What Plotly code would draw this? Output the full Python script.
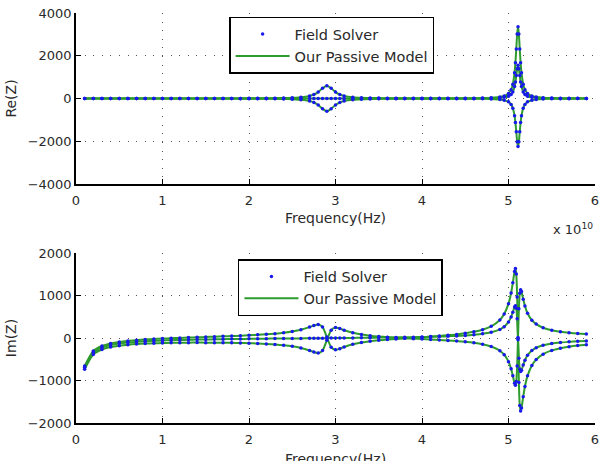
import plotly.graph_objects as go
from plotly.subplots import make_subplots

# Frequency in units of 1e10 Hz
freq = [0.1, 0.2, 0.3, 0.4, 0.5, 0.6, 0.7, 0.8, 0.9, 1.0,
        1.1, 1.2, 1.3, 1.4, 1.5, 1.6, 1.7, 1.8, 1.9, 2.0,
        2.1, 2.2, 2.3, 2.4, 2.5, 2.6, 2.7,
        2.75, 2.8, 2.85, 2.9, 2.95, 3.0, 3.05, 3.1,
        3.2, 3.3, 3.4, 3.5, 3.6, 3.7, 3.8, 3.9, 4.0, 4.1, 4.2, 4.3, 4.4, 4.5, 4.6, 4.7, 4.8, 4.9,
        4.95, 5.0, 5.03, 5.05, 5.07, 5.08, 5.09, 5.10, 5.11, 5.12, 5.13, 5.14, 5.15, 5.17, 5.19, 5.22, 5.27, 5.32,
        5.4, 5.5, 5.6, 5.7, 5.8, 5.9]

re_z11 = [1, 1, 1, 1, 1, 1, 1, 1, 2, 2,
          2, 2, 2, 3, 3, 4, 4, 5, 6, 7,
          9, 12, 16, 23, 36, 61, 121,
          186, 301, 481, 601, 481, 301, 186, 121,
          61, 36, 25, 18, 14, 11, 9, 8, 7, 7, 7, 8, 9, 10, 14, 20, 33, 68,
          115, 232, 413, 671, 1207, 1676, 2319, 3016, 3351, 3016, 2319, 1676, 1207, 671, 413, 232, 115, 68,
          37, 21, 14, 10, 7, 6]
re_z12 = [-1, -1, -1, -1, -1, -1, -1, -1, -2, -2,
          -2, -2, -2, -3, -3, -4, -4, -5, -6, -7,
          -9, -12, -16, -23, -36, -61, -121,
          -186, -301, -481, -601, -481, -301, -186, -121,
          -61, -36, -24, -17, -13, -10, -8, -7, -6, -6, -6, -6, -6, -7, -10, -14, -23, -46,
          -78, -157, -278, -451, -811, -1126, -1558, -2026, -2251, -2026, -1558, -1126, -811, -451, -278, -157, -78, -46,
          -25, -14, -9, -7, -5, -4]
re_z22 = [0, 0, 0, 0, 0, 0, 0, 0, 0, 0,
          0, 0, 0, 0, 0, 0, 0, 0, 0, 0,
          0, 0, 0, 0, 0, 0, 0,
          0, 0, 0, 0, 0, 0, 0, 0,
          0, 0, 1, 1, 1, 1, 1, 1, 1, 1, 2, 2, 3, 4, 5, 8, 14, 31,
          53, 107, 191, 310, 558, 775, 1073, 1395, 1550, 1395, 1073, 775, 558, 310, 191, 107, 53, 31,
          16, 9, 6, 4, 3, 2]

im_z11 = [-659, -307, -189, -130, -93, -69, -50, -36, -24, -14,
          -6, 3, 9, 17, 24, 31, 39, 45, 53, 63,
          74, 87, 103, 123, 152, 193, 256,
          294, 319, 260, 22, -217, -276, -251, -213,
          -149, -107, -77, -55, -37, -22, -8, 6, 19, 33, 48, 65, 85, 112, 146, 196, 275, 425,
          564, 808, 1060, 1298, 1566, 1633, 1504, 964, -41, -1046, -1587, -1716, -1649, -1381, -1141, -890, -646, -508,
          -380, -292, -239, -204, -178, -159]
im_z12 = [-735, -386, -270, -213, -180, -158, -142, -132, -124, -118,
          -114, -110, -109, -108, -109, -109, -111, -113, -117, -123,
          -129, -139, -151, -169, -195, -234, -294,
          -331, -354, -295, -55, 185, 245, 221, 184,
          123, 83, 55, 35, 20, 7, -4, -15, -24, -34, -45, -57, -71, -89, -112, -146, -199, -299,
          -393, -557, -726, -886, -1066, -1111, -1024, -661, 13, 688, 1052, 1138, 1093, 914, 753, 584, 420, 327,
          241, 182, 147, 123, 106, 93]
im_z22 = [-691, -340, -223, -165, -130, -107, -90, -77, -67, -59,
          -52, -46, -42, -38, -34, -31, -27, -25, -23, -20,
          -18, -16, -13, -12, -10, -9, -7,
          -6, -5, -4, -3, -2, -1, 0, 1,
          2, 5, 7, 9, 11, 14, 17, 20, 24, 29, 34, 41, 49, 60, 76, 98, 134, 203,
          267, 379, 496, 606, 730, 761, 701, 451, -14, -479, -729, -789, -758, -634, -523, -407, -294, -230,
          -172, -131, -107, -91, -79, -71]

x_ticks = [0, 1, 2, 3, 4, 5, 6]
re_ticks = [-4000, -2000, 0, 2000, 4000]
im_ticks = [-2000, -1000, 0, 1000, 2000]

GREEN = "rgb(45,155,45)"
BLUE = "rgb(25,25,235)"
FONT = "DejaVu Sans, Liberation Sans, Arial, sans-serif"
TXT = "#2a2a2a"

fig = make_subplots(rows=2, cols=1)

panels = [
    (1, [re_z11, re_z12, re_z22], "legend"),
    (2, [im_z11, im_z12, im_z22], "legend2"),
]
for row, series, leg in panels:
    for i, ys in enumerate(series):
        fig.add_trace(go.Scatter(
            x=freq, y=ys, mode="lines", line=dict(color=GREEN, width=2, shape="spline", smoothing=0.6),
            name="Our Passive Model", legendgroup="model" + str(row), showlegend=(i == 0),
            legend=leg, legendrank=2), row=row, col=1)
    for i, ys in enumerate(series):
        fig.add_trace(go.Scatter(
            x=freq, y=ys, mode="markers", marker=dict(color=BLUE, size=3.5),
            name="Field Solver", legendgroup="fs" + str(row), showlegend=(i == 0),
            legend=leg, legendrank=1), row=row, col=1)

axis_common = dict(
    showline=True, linecolor="black", linewidth=1.5, mirror=False,
    ticks="inside", ticklen=5, tickwidth=1, tickcolor="black",
    showgrid=True, gridcolor="#555555", gridwidth=1, griddash="1px,7.6px",
    zeroline=False, automargin=False, tickfont=dict(size=13, color=TXT, family=FONT),
)

fig.update_xaxes(range=[0, 6], tickvals=x_ticks, ticklabelstandoff=4, **axis_common)
fig.update_xaxes(domain=[0, 1], row=1, col=1,
                 title=dict(text="Frequency(Hz)", standoff=6, font=dict(size=14, family=FONT, color=TXT)))
fig.update_xaxes(domain=[0, 1], row=2, col=1)
fig.update_yaxes(**axis_common)
fig.update_yaxes(range=[-4000, 4000], tickvals=re_ticks, domain=[0.5829, 1.0], row=1, col=1,
                 title=dict(text="Re(Z)", standoff=8, font=dict(size=14, family=FONT, color=TXT)))
fig.update_yaxes(range=[-2000, 2000], tickvals=im_ticks, domain=[0.0, 0.4146], row=2, col=1,
                 title=dict(text="Im(Z)", standoff=8, font=dict(size=14, family=FONT, color=TXT)))

leg_common = dict(xanchor="left", yanchor="top", bordercolor="black", borderwidth=1.5,
                  bgcolor="white", font=dict(size=14.5, color=TXT, family=FONT),
                  tracegroupgap=0, itemwidth=54)
fig.update_layout(
    width=600, height=461,
    margin=dict(l=76, r=5, t=13, b=38),
    paper_bgcolor="white", plot_bgcolor="white",
    font=dict(family=FONT, size=13, color=TXT),
    legend=dict(x=0.295, y=0.991, **leg_common),
    legend2=dict(x=0.312, y=0.40, **leg_common),
    annotations=[
        dict(text="x 10<sup>10</sup>", xref="paper", yref="paper", x=1.0, y=0.5829,
             xanchor="right", yanchor="top", yshift=-35, showarrow=False,
             font=dict(size=13, color=TXT, family=FONT)),
        dict(text="x 10<sup>10</sup>", xref="paper", yref="paper", x=1.0, y=0.0,
             xanchor="right", yanchor="top", yshift=-35, showarrow=False,
             font=dict(size=13, color=TXT, family=FONT)),
        dict(text="Frequency(Hz)", xref="paper", yref="paper", x=0.5, y=0.0,
             xanchor="center", yanchor="top", yshift=-26, showarrow=False,
             font=dict(size=14, color=TXT, family=FONT)),
    ],
)

fig.write_html("out.html")
